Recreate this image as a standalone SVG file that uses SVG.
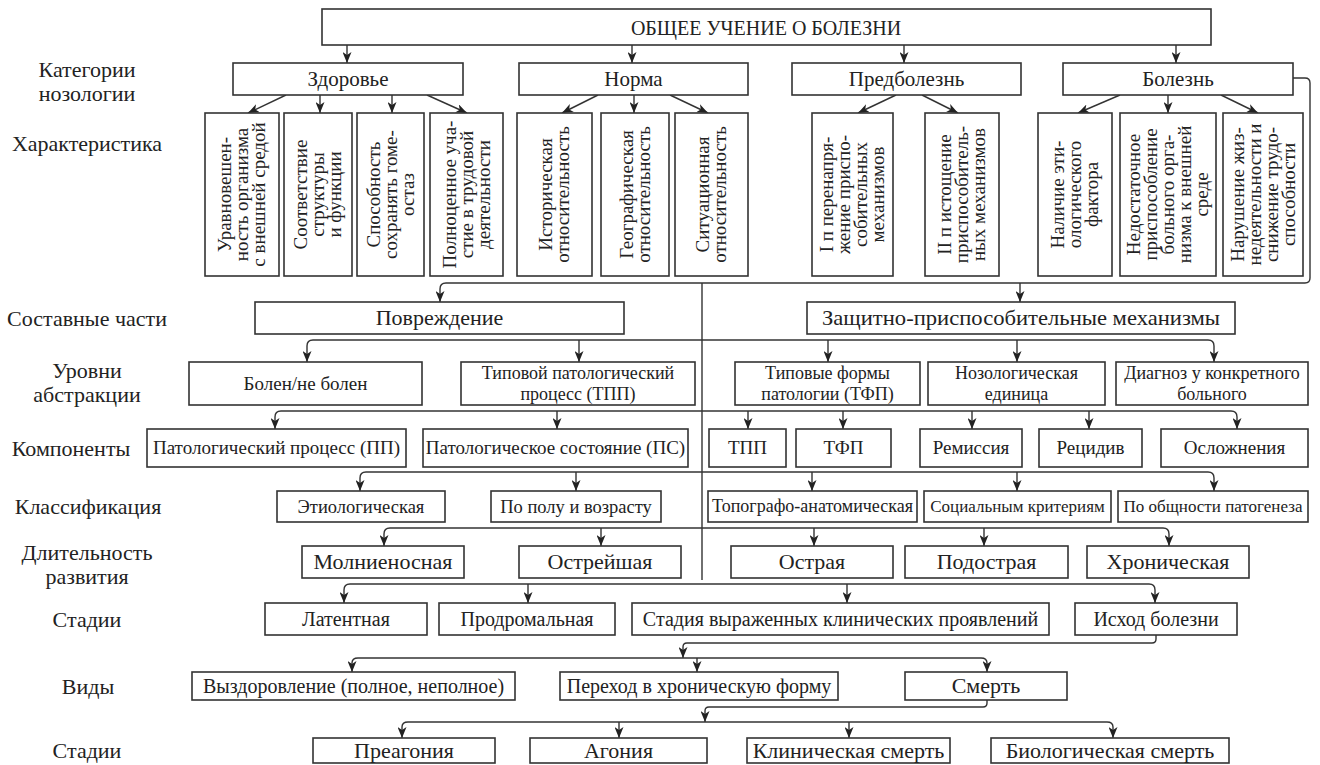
<svg xmlns="http://www.w3.org/2000/svg" width="1320" height="765" viewBox="0 0 1320 765">
<style>
text{font-family:"Liberation Serif","Times New Roman",serif;fill:#222;text-anchor:middle}
.box{fill:#fff;stroke:#333;stroke-width:1.6}
.ln{fill:none;stroke:#333;stroke-width:1.4}
.ar{fill:none;stroke:#333;stroke-width:1.4;marker-end:url(#ah)}
.f22{font-size:22px}.f21{font-size:21px}.f20{font-size:20px}.f19{font-size:19px}.f185{font-size:18.5px}.f18{font-size:18px}.f17{font-size:17px}
</style>
<defs>
<marker id="ah" viewBox="0 0 11 9" refX="11" refY="4.5" markerWidth="11" markerHeight="9" markerUnits="userSpaceOnUse" orient="auto">
<path d="M0,0 L11,4.5 L0,9 L3,4.5 Z" fill="#222"/>
</marker>
</defs>
<rect width="1320" height="765" fill="#fff"/>

<g id="row-labels" class="f22">
<text x="87" y="77">Категории</text><text x="87" y="101">нозологии</text>
<text x="87" y="150.5">Характеристика</text>
<text x="87" y="325.5">Составные части</text>
<text x="87" y="378">Уровни</text><text x="87" y="402">абстракции</text>
<text x="71" y="455.5">Компоненты</text>
<text x="88" y="514">Классификация</text>
<text x="87" y="560">Длительность</text><text x="87" y="584">развития</text>
<text x="87" y="626.5">Стадии</text>
<text x="88" y="693.5">Виды</text>
<text x="87" y="758">Стадии</text>
</g>

<g id="connectors">
<path class="ar" d="M347,45 V63"/><path class="ar" d="M632,45 V63"/><path class="ar" d="M904,45 V63"/><path class="ar" d="M1176,45 V63"/>
<path class="ar" d="M286,95 L248,113"/><path class="ar" d="M320,95 V113"/><path class="ar" d="M392,95 V113"/><path class="ar" d="M427,95 L467,113"/>
<path class="ar" d="M598,95 L562,113"/><path class="ar" d="M634,95 V113"/><path class="ar" d="M670,95 L708,113"/>
<path class="ar" d="M896,95 L858,113"/><path class="ar" d="M922,95 L958,113"/>
<path class="ar" d="M1120,95 L1078,113"/><path class="ar" d="M1168,95 V113"/><path class="ar" d="M1221,95 L1258,113"/>
<path class="ar" d="M1293,78 H1305 Q1310,78 1310,83 V278 Q1310,283 1305,283 H446 Q440,283 440,289 V302"/>
<path class="ar" d="M1020,283 V302"/>
<path class="ln" d="M702,283 V580"/>
<path class="ln" d="M313,340 H1208"/>
<path class="ar" d="M313,340 Q307,340 307,346 V362"/><path class="ar" d="M1208,340 Q1214,340 1214,346 V362"/>
<path class="ar" d="M579,340 V362"/><path class="ar" d="M828,340 V362"/><path class="ar" d="M1017,340 V362"/>
<path class="ln" d="M281,411 H1231"/>
<path class="ar" d="M281,411 Q275,411 275,417 V429"/><path class="ar" d="M1231,411 Q1237,411 1237,417 V429"/>
<path class="ar" d="M557,411 V429"/><path class="ar" d="M748,411 V429"/><path class="ar" d="M843,411 V429"/><path class="ar" d="M972,411 V429"/><path class="ar" d="M1089,411 V429"/>
<path class="ln" d="M366,472 H1208"/>
<path class="ar" d="M366,472 Q360,472 360,478 V491"/><path class="ar" d="M1208,472 Q1214,472 1214,478 V491"/>
<path class="ar" d="M576,472 V491"/><path class="ar" d="M812,472 V491"/><path class="ar" d="M1017,472 V491"/>
<path class="ln" d="M390,528 H1163"/>
<path class="ar" d="M390,528 Q384,528 384,534 V546"/><path class="ar" d="M1163,528 Q1169,528 1169,534 V546"/>
<path class="ar" d="M601,528 V546"/><path class="ar" d="M814,528 V546"/><path class="ar" d="M984,528 V546"/>
<path class="ln" d="M350,584 H1149"/>
<path class="ar" d="M350,584 Q344,584 344,590 V603"/><path class="ar" d="M1149,584 Q1155,584 1155,590 V603"/>
<path class="ar" d="M528,584 V603"/><path class="ar" d="M847,584 V603"/>
<path class="ar" d="M1156,635 V639 Q1156,643 1152,643 H687 Q683,643 683,647 V658"/>
<path class="ln" d="M358,658 H981"/>
<path class="ar" d="M358,658 Q352,658 352,663 V672"/><path class="ar" d="M981,658 Q987,658 987,663 V672"/>
<path class="ar" d="M697,658 V672"/>
<path class="ar" d="M987,700 V703 Q987,707 983,707 H709 Q705,707 705,711 V722"/>
<path class="ln" d="M408,722 H1107"/>
<path class="ar" d="M408,722 Q402,722 402,727 V738"/><path class="ar" d="M1107,722 Q1113,722 1113,727 V738"/>
<path class="ar" d="M619,722 V738"/><path class="ar" d="M849,722 V738"/>
</g>

<g id="n-root"><rect class="box" x="322" y="9" width="889" height="36"/><text class="f20" x="766" y="34.6">ОБЩЕЕ УЧЕНИЕ О БОЛЕЗНИ</text></g>

<g id="n-zdorovie"><rect class="box" x="233" y="63" width="230" height="32"/><text class="f21" x="348" y="86">Здоровье</text></g>
<g id="n-norma"><rect class="box" x="519" y="63" width="229" height="32"/><text class="f21" x="633.5" y="86">Норма</text></g>
<g id="n-predbolezn"><rect class="box" x="792" y="63" width="229" height="32"/><text class="f21" x="906.5" y="86">Предболезнь</text></g>
<g id="n-bolezn"><rect class="box" x="1063" y="63" width="230" height="32"/><text class="f21" x="1178" y="86">Болезнь</text></g>

<g id="n-c1"><rect class="box" x="205" y="113" width="74" height="163"/><text class="f19" transform="translate(242,194.5) rotate(-90)"><tspan x="0" y="-10.7">Уравновешен-</tspan><tspan x="0" y="6.3">ность организма</tspan><tspan x="0" y="23.3">с внешней средой</tspan></text></g>
<g id="n-c2"><rect class="box" x="284" y="113" width="68" height="163"/><text class="f19" transform="translate(318,194.5) rotate(-90)"><tspan x="0" y="-10.7">Соответствие</tspan><tspan x="0" y="6.3">структуры</tspan><tspan x="0" y="23.3">и функции</tspan></text></g>
<g id="n-c3"><rect class="box" x="357" y="113" width="67" height="163"/><text class="f19" transform="translate(390.5,194.5) rotate(-90)"><tspan x="0" y="-10.7">Способность</tspan><tspan x="0" y="6.3">сохранять гоме-</tspan><tspan x="0" y="23.3">остаз</tspan></text></g>
<g id="n-c4"><rect class="box" x="430" y="113" width="73" height="163"/><text class="f19" transform="translate(466.5,194.5) rotate(-90)"><tspan x="0" y="-10.7">Полноценное уча-</tspan><tspan x="0" y="6.3">стие в трудовой</tspan><tspan x="0" y="23.3">деятельности</tspan></text></g>
<g id="n-c5"><rect class="box" x="517" y="113" width="75" height="163"/><text class="f19" transform="translate(554.5,194.5) rotate(-90)"><tspan x="0" y="-2.2">Историческая</tspan><tspan x="0" y="14.8">относительность</tspan></text></g>
<g id="n-c6"><rect class="box" x="601" y="113" width="68" height="163"/><text class="f19" transform="translate(635,194.5) rotate(-90)"><tspan x="0" y="-2.2">Географическая</tspan><tspan x="0" y="14.8">относительность</tspan></text></g>
<g id="n-c7"><rect class="box" x="675" y="113" width="73" height="163"/><text class="f19" transform="translate(711.5,194.5) rotate(-90)"><tspan x="0" y="-2.2">Ситуационная</tspan><tspan x="0" y="14.8">относительность</tspan></text></g>
<g id="n-c8"><rect class="box" x="812" y="113" width="81" height="163"/><text class="f19" transform="translate(852.5,194.5) rotate(-90)"><tspan x="0" y="-19.2">I п перенапря-</tspan><tspan x="0" y="-2.2">жение приспо-</tspan><tspan x="0" y="14.8">собительных</tspan><tspan x="0" y="31.8">механизмов</tspan></text></g>
<g id="n-c9"><rect class="box" x="925" y="113" width="74" height="163"/><text class="f19" transform="translate(962,194.5) rotate(-90)"><tspan x="0" y="-10.7">II п истощение</tspan><tspan x="0" y="6.3">приспособитель-</tspan><tspan x="0" y="23.3">ных механизмов</tspan></text></g>
<g id="n-c10"><rect class="box" x="1038" y="113" width="74" height="163"/><text class="f19" transform="translate(1075,194.5) rotate(-90)"><tspan x="0" y="-10.7">Наличие эти-</tspan><tspan x="0" y="6.3">ологического</tspan><tspan x="0" y="23.3">фактора</tspan></text></g>
<g id="n-c11"><rect class="box" x="1120" y="113" width="96" height="163"/><text class="f19" transform="translate(1168,194.5) rotate(-90)"><tspan x="0" y="-27.7">Недостаточное</tspan><tspan x="0" y="-10.7">приспособление</tspan><tspan x="0" y="6.3">больного орга-</tspan><tspan x="0" y="23.3">низма к внешней</tspan><tspan x="0" y="40.3">среде</tspan></text></g>
<g id="n-c12"><rect class="box" x="1223" y="113" width="80" height="163"/><text class="f19" transform="translate(1263,194.5) rotate(-90)"><tspan x="0" y="-19.2">Нарушение жиз-</tspan><tspan x="0" y="-2.2">недеятельности и</tspan><tspan x="0" y="14.8">снижение трудо-</tspan><tspan x="0" y="31.8">способности</tspan></text></g>

<g id="n-povrezhdenie"><rect class="box" x="255" y="302" width="369" height="32"/><text class="f22" x="439.5" y="325.3">Повреждение</text></g>
<g id="n-zashchitno"><rect class="box" x="807" y="302" width="428" height="32"/><text class="f22" x="1021" y="325.3" textLength="398" lengthAdjust="spacingAndGlyphs">Защитно-приспособительные механизмы</text></g>

<g id="n-bolen"><rect class="box" x="189" y="362" width="233" height="43"/><text class="f19" x="305.5" y="389.8">Болен/не болен</text></g>
<g id="n-tpp"><rect class="box" x="461" y="362" width="234" height="43"/><text class="f18" x="578" y="379.2">Типовой патологический</text><text class="f18" x="578" y="399.7">процесс (ТПП)</text></g>
<g id="n-tfp"><rect class="box" x="735" y="362" width="185" height="43"/><text class="f18" x="827.5" y="379.2">Типовые формы</text><text class="f18" x="827.5" y="399.7">патологии (ТФП)</text></g>
<g id="n-nozed"><rect class="box" x="928" y="362" width="177" height="43"/><text class="f18" x="1016.5" y="379.2">Нозологическая</text><text class="f18" x="1016.5" y="399.7">единица</text></g>
<g id="n-diagnoz"><rect class="box" x="1116" y="362" width="192" height="43"/><text class="f18" x="1212" y="379.2">Диагноз у конкретного</text><text class="f18" x="1212" y="399.7">больного</text></g>

<g id="n-pp"><rect class="box" x="147" y="429" width="259" height="38"/><text class="f19" x="276.5" y="454.3">Патологический процесс (ПП)</text></g>
<g id="n-ps"><rect class="box" x="423" y="429" width="265" height="38"/><text class="f19" x="555.5" y="454.3">Патологическое состояние (ПС)</text></g>
<g id="n-k-tpp"><rect class="box" x="709" y="429" width="77" height="38"/><text class="f19" x="747.5" y="454.3">ТПП</text></g>
<g id="n-k-tfp"><rect class="box" x="796" y="429" width="95" height="38"/><text class="f19" x="843.5" y="454.3">ТФП</text></g>
<g id="n-remissiya"><rect class="box" x="920" y="429" width="102" height="38"/><text class="f19" x="971" y="454.3">Ремиссия</text></g>
<g id="n-recidiv"><rect class="box" x="1039" y="429" width="103" height="38"/><text class="f19" x="1090.5" y="454.3">Рецидив</text></g>
<g id="n-oslozhneniya"><rect class="box" x="1161" y="429" width="147" height="38"/><text class="f19" x="1234.5" y="454.3">Осложнения</text></g>

<g id="n-etiol"><rect class="box" x="277" y="491" width="168" height="31"/><text class="f185" x="361" y="512.6">Этиологическая</text></g>
<g id="n-popolu"><rect class="box" x="491" y="491" width="170" height="31"/><text class="f185" x="576" y="512.6">По полу и возрасту</text></g>
<g id="n-topogr"><rect class="box" x="708" y="491" width="209" height="31"/><text class="f18" x="812.5" y="512.4">Топографо-анатомическая</text></g>
<g id="n-social"><rect class="box" x="924" y="491" width="187" height="31"/><text class="f17" x="1017.5" y="512.1">Социальным критериям</text></g>
<g id="n-patogenez"><rect class="box" x="1118" y="491" width="190" height="31"/><text class="f17" x="1213" y="512.1">По общности патогенеза</text></g>

<g id="n-molnien"><rect class="box" x="302" y="546" width="162" height="32"/><text class="f22" x="383" y="569.3">Молниеносная</text></g>
<g id="n-ostreish"><rect class="box" x="519" y="546" width="162" height="32"/><text class="f22" x="600" y="569.3">Острейшая</text></g>
<g id="n-ostraya"><rect class="box" x="731" y="546" width="162" height="32"/><text class="f22" x="812" y="569.3">Острая</text></g>
<g id="n-podostr"><rect class="box" x="905" y="546" width="163" height="32"/><text class="f22" x="986.5" y="569.3">Подострая</text></g>
<g id="n-hronich"><rect class="box" x="1087" y="546" width="162" height="32"/><text class="f22" x="1168" y="569.3">Хроническая</text></g>

<g id="n-latent"><rect class="box" x="265" y="603" width="162" height="32"/><text class="f20" x="346" y="625.6">Латентная</text></g>
<g id="n-prodrom"><rect class="box" x="439" y="603" width="176" height="32"/><text class="f20" x="527" y="625.6">Продромальная</text></g>
<g id="n-vyrazh"><rect class="box" x="632" y="603" width="417" height="32"/><text class="f20" x="840.5" y="625.6">Стадия выраженных клинических проявлений</text></g>
<g id="n-ishod"><rect class="box" x="1075" y="603" width="162" height="32"/><text class="f20" x="1156" y="625.6">Исход болезни</text></g>

<g id="n-vyzdor"><rect class="box" x="192" y="672" width="323" height="28"/><text class="f20" x="353.5" y="692.6">Выздоровление (полное, неполное)</text></g>
<g id="n-perehod"><rect class="box" x="560" y="672" width="278" height="28"/><text class="f20" x="699" y="692.6">Переход в хроническую форму</text></g>
<g id="n-smert"><rect class="box" x="905" y="672" width="162" height="28"/><text class="f22" x="986" y="693.3">Смерть</text></g>

<g id="n-preagon"><rect class="box" x="313" y="738" width="182" height="25"/><text class="f22" x="404" y="757.8">Преагония</text></g>
<g id="n-agon"><rect class="box" x="530" y="738" width="177" height="25"/><text class="f22" x="618.5" y="757.8">Агония</text></g>
<g id="n-klinsm"><rect class="box" x="747" y="738" width="203" height="25"/><text class="f22" x="848.5" y="757.8">Клиническая смерть</text></g>
<g id="n-biolsm"><rect class="box" x="991" y="738" width="238" height="25"/><text class="f22" x="1110" y="757.8">Биологическая смерть</text></g>
</svg>
